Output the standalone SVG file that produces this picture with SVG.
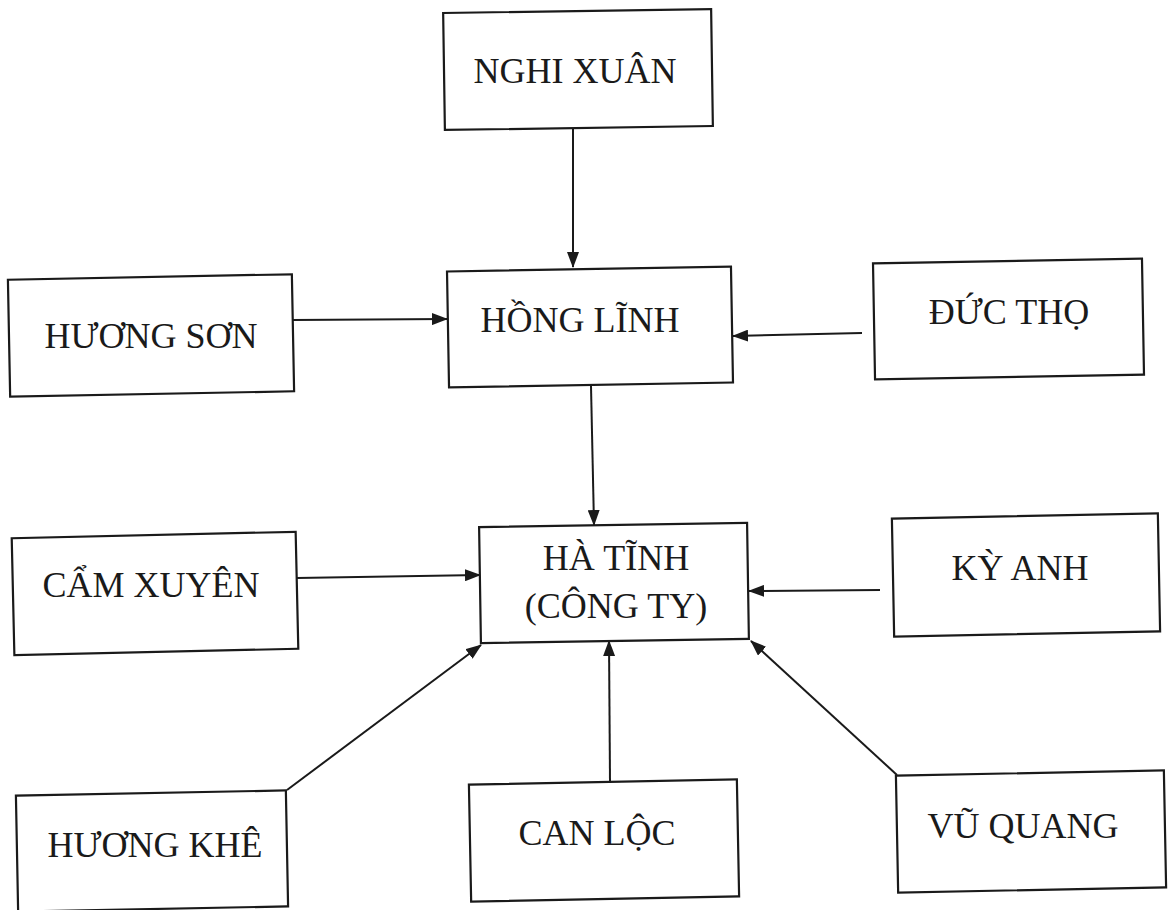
<svg xmlns="http://www.w3.org/2000/svg" width="1170" height="910" viewBox="0 0 1170 910">
<style>
.box{fill:#fff;stroke:#1a1a1a;stroke-width:2.2}
.lbl{font-family:"Liberation Serif","Times New Roman",serif;font-size:36px;fill:#1a1a1a;text-anchor:middle}
.con{stroke:#1a1a1a;stroke-width:2;fill:none;marker-end:url(#ah)}
</style>
<defs>
<marker id="ah" viewBox="0 0 16 12" refX="15" refY="6" markerWidth="16" markerHeight="12" markerUnits="userSpaceOnUse" orient="auto">
<path d="M0,0 L16,6 L0,12 Z" fill="#1a1a1a"/>
</marker>
</defs>
<rect width="1170" height="910" fill="#fff"/>
<g id="connectors">
<line class="con" x1="573" y1="129" x2="573" y2="267"/>
<line class="con" x1="293" y1="320" x2="447" y2="319"/>
<line class="con" x1="862" y1="333" x2="733" y2="336"/>
<line class="con" x1="591" y1="386" x2="594" y2="525"/>
<line class="con" x1="297" y1="578" x2="480" y2="575"/>
<line class="con" x1="880" y1="590" x2="749" y2="591"/>
<line class="con" x1="287" y1="790" x2="481" y2="645"/>
<line class="con" x1="610" y1="781" x2="609" y2="641"/>
<line class="con" x1="897" y1="775" x2="751" y2="641"/>
</g>
<g id="nghi-xuan"><rect class="box" x="444" y="11" width="268" height="117" transform="rotate(-0.85 578 69)"/><text class="lbl" x="575" y="83">NGHI XUÂN</text></g>
<g id="huong-son"><rect class="box" x="9" y="277" width="284" height="117" transform="rotate(-1.1 151 335)"/><text class="lbl" x="151" y="348">HƯƠNG SƠN</text></g>
<g id="hong-linh"><rect class="box" x="448" y="269" width="284" height="116" transform="rotate(-1 590 327)"/><text class="lbl" x="580" y="332">HỒNG LĨNH</text></g>
<g id="duc-tho"><rect class="box" x="874" y="261" width="269" height="116" transform="rotate(-1 1008 319)"/><text class="lbl" x="1009" y="324">ĐỨC THỌ</text></g>
<g id="cam-xuyen"><rect class="box" x="13" y="535" width="284" height="117" transform="rotate(-1.3 155 593)"/><text class="lbl" x="151" y="597">CẨM XUYÊN</text></g>
<g id="ha-tinh"><rect class="box" x="480" y="525" width="268" height="116" transform="rotate(-0.9 614 583)"/><text class="lbl" x="616" y="570">HÀ TĨNH</text><text class="lbl" x="616" y="618">(CÔNG TY)</text></g>
<g id="ky-anh"><rect class="box" x="893" y="516" width="266" height="118" transform="rotate(-1.1 1026 575)"/><text class="lbl" x="1020" y="580">KỲ ANH</text></g>
<g id="huong-khe"><rect class="box" x="17" y="793" width="270" height="116" transform="rotate(-1.1 152 851)"/><text class="lbl" x="155" y="857">HƯƠNG KHÊ</text></g>
<g id="can-loc"><rect class="box" x="470" y="782" width="268" height="117" transform="rotate(-1.1 604 840)"/><text class="lbl" x="597" y="845">CAN LỘC</text></g>
<g id="vu-quang"><rect class="box" x="897" y="773" width="268" height="117" transform="rotate(-1.1 1031 831)"/><text class="lbl" x="1023" y="838">VŨ QUANG</text></g>
</svg>
